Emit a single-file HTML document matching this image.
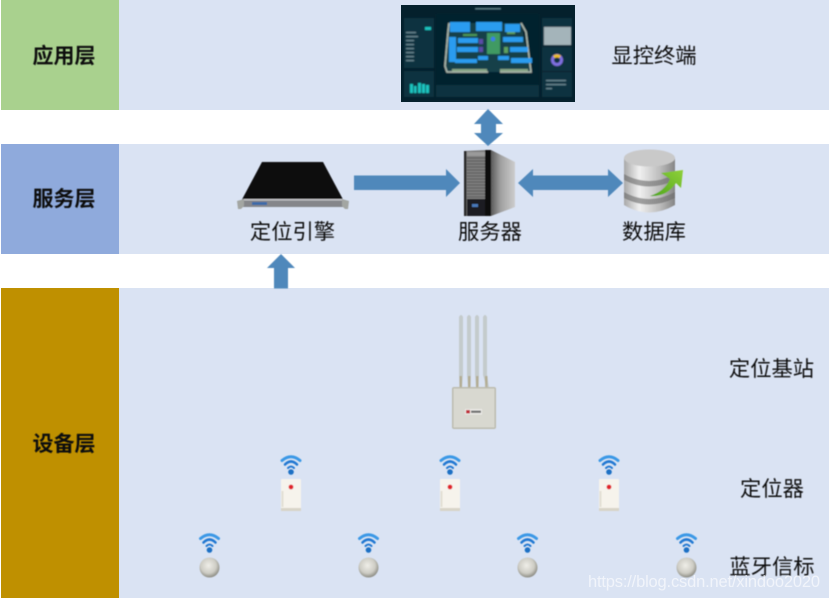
<!DOCTYPE html>
<html><head><meta charset="utf-8"><style>
html,body{margin:0;padding:0;background:#fff;width:830px;height:600px;overflow:hidden}
svg{display:block}
text{font-family:"Liberation Sans","Noto Sans CJK SC",sans-serif;fill:#111}
.b{font-weight:bold;font-size:21px}
.l{font-size:21.3px}
</style></head><body>
<svg width="830" height="600" viewBox="0 0 830 600" xmlns="http://www.w3.org/2000/svg">
<defs>
<linearGradient id="side" x1="0" x2="1" y1="0" y2="0"><stop offset="0" stop-color="#5a5a5a"/><stop offset=".4" stop-color="#a0a0a0"/><stop offset="1" stop-color="#cdcdcd"/></linearGradient>
<linearGradient id="cyl" x1="0" x2="1" y1="0" y2="0"><stop offset="0" stop-color="#a8a8a8"/><stop offset=".3" stop-color="#f0f0f0"/><stop offset=".7" stop-color="#bdbdbd"/><stop offset="1" stop-color="#858585"/></linearGradient>
<linearGradient id="grn" x1="0" x2="1" y1="1" y2="0"><stop offset="0" stop-color="#4fa51a"/><stop offset="1" stop-color="#8fd03a"/></linearGradient>
<radialGradient id="ball" cx=".45" cy=".4" r=".65"><stop offset="0" stop-color="#efeee8"/><stop offset=".6" stop-color="#cdccc4"/><stop offset="1" stop-color="#7d7d74"/></radialGradient>
<filter id="bl" x="-5%" y="-5%" width="110%" height="110%"><feGaussianBlur stdDeviation=".7"/></filter>
<filter id="bt" x="-5%" y="-5%" width="110%" height="110%"><feGaussianBlur stdDeviation=".4"/></filter>
<g id="wifi" fill="none" stroke-linecap="round">
<path d="M-9 -6.500 Q0 -14 9 -6.500" stroke="#3a98e6" stroke-width="3"/>
<path d="M-6 -2.500 Q0 -8.500 6 -2.500" stroke="#2178d2" stroke-width="2.600"/>
<path d="M-3 1 Q0 -2 3 1" stroke="#2178d2" stroke-width="2"/>
<circle cx="0" cy="5" r="2.800" fill="#1b6fc4"/>
</g>
<g id="locator">
<g transform="translate(0,-16)"><use href="#wifi"/></g>
<rect x="-10" y="-4" width="20" height="32" rx="1" fill="#f6f3ec"/>
<rect x="-10" y="25" width="20" height="3" fill="#d8d4c8"/>
<rect x="-9.500" y="8" width="2" height="16" fill="#e2dfd4"/>
<circle cx="0" cy="4" r="2.400" fill="#e0202a"/>
</g>
<g id="beacon">
<g transform="translate(0,-23)"><use href="#wifi"/></g>
<circle cx="0" cy="-.5" r="10" fill="url(#ball)"/>
</g>
</defs>

<rect x="119" y="0" width="710" height="110" fill="#dae3f3"/>
<rect x="119" y="144" width="710" height="110" fill="#dae3f3"/>
<rect x="119" y="288" width="710" height="310" fill="#dae3f3"/>
<rect x="1" y="0" width="118" height="110" fill="#a9d18e"/>
<rect x="1" y="144" width="118" height="110" fill="#8faadc"/>
<rect x="1" y="288" width="118" height="310" fill="#bf9000"/>

<!-- screen -->
<rect x="401" y="5" width="174" height="97" fill="#04202c"/>
<g filter="url(#bl)">
<rect x="436" y="14" width="103" height="70" fill="#06222f"/>
<rect x="404" y="18" width="30" height="50" fill="#0a3140"/>
<rect x="404" y="71" width="30" height="26" fill="#0a3140"/>
<rect x="542" y="18" width="30" height="28" fill="#0a3140"/>
<rect x="542" y="47" width="30" height="24" fill="#0a3140"/>
<rect x="542" y="72" width="30" height="25" fill="#0a3140"/>
<rect x="436" y="85" width="103" height="12" fill="#0a3140"/>
<path d="M449 23 L521 23 L531 72 L447 72 L445 66 Z" fill="#143f48"/>
<path d="M449 23 L448 32 L445 66 L447 72 L488 72 M500 72 L531 72 L526 32 L521 23" fill="none" stroke="#b4c0b4" stroke-width="1.500"/>
<g fill="#2c9cf0">
<rect x="450" y="22" width="20" height="10"/><rect x="476" y="22" width="26" height="9"/>
<rect x="505" y="24" width="15" height="8"/><rect x="449" y="37" width="7" height="25"/>
<rect x="458" y="38" width="20" height="5"/><rect x="457" y="47" width="21" height="5"/>
<rect x="503" y="37" width="20" height="5"/><rect x="510" y="47" width="18" height="5"/>
<rect x="455" y="59" width="22" height="4"/><rect x="478" y="56" width="10" height="4"/>
<rect x="498" y="56" width="11" height="4"/><rect x="511" y="58" width="21" height="5"/>
</g>
<rect x="487" y="33" width="13" height="21" fill="#3f9a63"/>
<circle cx="493" cy="39" r="2.200" fill="#3a7cf0"/>
<rect x="479" y="39" width="4" height="5" fill="#5b4ba8"/>
<rect x="479" y="47" width="4" height="5" fill="#5b4ba8"/>
<rect x="504" y="47" width="4" height="6" fill="#5fa05f"/>
<rect x="452" y="69" width="35" height="2.500" fill="#86a686"/>
<rect x="500" y="69" width="28" height="2.500" fill="#86a686"/>
<rect x="463" y="34" width="14" height="2" fill="#4d9a58"/>
<rect x="507" y="32" width="8" height="2" fill="#5fa05f"/>
<rect x="544" y="27" width="27" height="18" fill="#a4b4ba"/>
<circle cx="557" cy="60" r="4.500" fill="none" stroke="#7f6fe0" stroke-width="3"/>
<path d="M554 57 a4.500 4.500 0 0 1 6 0" fill="none" stroke="#f0c020" stroke-width="3"/>
<g fill="#1fc4c0">
<rect x="410" y="84" width="3" height="9"/><rect x="414" y="86" width="2.500" height="7"/>
<rect x="418" y="83" width="3" height="10"/><rect x="422" y="84" width="3" height="9"/>
<rect x="426" y="85" width="3" height="8"/>
<rect x="425" y="27" width="6" height="3"/>
</g>
<g fill="#9ab8bf" opacity=".7">
<rect x="406" y="32" width="10" height="1.200"/><rect x="406" y="36" width="12" height="1.200"/>
<rect x="406" y="40" width="8" height="1.200"/><rect x="406" y="44" width="8" height="1.200"/>
<rect x="406" y="48" width="8" height="1.200"/><rect x="406" y="52" width="8" height="1.200"/>
<rect x="406" y="56" width="8" height="1.200"/><rect x="406" y="60" width="8" height="1.200"/>
<rect x="546" y="80" width="20" height="1.200"/><rect x="546" y="84" width="20" height="1.200"/>
<rect x="546" y="88" width="6" height="1.200"/>
<rect x="475" y="8" width="26" height="1.500"/>
</g>
</g>

<!-- arrows -->
<g fill="#4f88bb" filter="url(#bt)">
<path d="M354 175.500 H446 V169 L460 183 L446 197 V190 H354 Z"/>
<path d="M281 254 L295 268 H288 V288.500 H274 V268 H267 Z"/>
<path d="M518 183 L533 169 V175.500 H608 V169 L623 183 L608 197 V190 H533 V197 Z"/>
<path d="M488 109 L503 124 H496 V133 H503 L488 146 L474 133 H481 V124 H474 Z"/>
</g>

<!-- engine -->
<g filter="url(#bt)">
<path d="M262 162 H323 L343 199.500 H242 Z" fill="#0a0a0d"/>
<rect x="243" y="199" width="100" height="8" fill="#85868a"/>
<rect x="243" y="199" width="100" height="1.500" fill="#c4c5c8"/>
<rect x="252" y="202" width="15" height="3" fill="#3d6aa8"/>
<path d="M237 201 L244 199 V206 L241 209 H238 Z" fill="#a3a6a2"/>
<path d="M349 201 L342 199 V206 L345 209 H348 Z" fill="#a3a6a2"/>
</g>

<!-- server -->
<g filter="url(#bt)">
<path d="M491 150 L515 162 V207 L491 216 Z" fill="url(#side)"/>
<path d="M464 151 L486 150 H491 V216 H464 Z" fill="#7c7c7c"/>
<rect x="485" y="150" width="6" height="66" fill="#101010"/>
<rect x="464" y="151" width="2.500" height="65" fill="#2a2a2a"/>
<rect x="467" y="152" width="18" height="4" fill="#9a9a9a"/>
<g stroke="#333" stroke-width=".8" opacity=".55">
<path d="M467 158H485M467 161H485M467 164H485M467 167H485M467 170H485M467 173H485M467 176H485M467 179H485M467 182H485M467 185H485M467 188H485M467 191H485M467 194H485M467 197H485"/>
</g>
<rect x="467" y="199" width="18" height="17" fill="#1b1b20"/>
<rect x="472" y="204" width="6" height="3" fill="#4a78b8"/>
</g>

<!-- database -->
<g filter="url(#bt)">
<path d="M624 158 V205 Q649 220 675 205 V158 Z" fill="url(#cyl)"/>
<path d="M624 174 Q649 188 675 174 V180 Q649 193 624 180 Z" fill="#6a6a6a" opacity=".6"/>
<path d="M624 192 Q649 206 675 192 V198 Q649 211 624 198 Z" fill="#6a6a6a" opacity=".6"/>
<ellipse cx="649.500" cy="158" rx="25.500" ry="8.500" fill="#c9c9c9"/>
<path d="M650 196 Q665 191 670 179 L661 173 L683 170 L681 188 L676 183 Q667 197 650 196 Z" fill="url(#grn)"/>
</g>

<!-- base station -->
<g filter="url(#bt)">
<g fill="#c4cbcc">
<path d="M459 317 Q461 313 463 317 V375 L462 387 H459.500 L459 375 Z"/>
<path d="M467 317 Q469 313 471 317 V375 L470.500 387 H468 L467 375 Z"/>
<path d="M475 317 Q477 313 479 317 V375 L478.500 387 H476 L475 375 Z"/>
<path d="M483 317 Q485 313 487 317 V375 L489 387 H486.500 L483 375 Z"/>
</g>
<g fill="#a89a70" opacity=".6">
<rect x="459.500" y="376" width="2.500" height="11"/><rect x="468" y="376" width="2.500" height="11"/>
<rect x="476" y="376" width="2.500" height="11"/><rect x="485" y="376" width="2.500" height="11"/>
</g>
<rect x="452" y="387" width="44" height="42" rx="2" fill="#bcbbae"/>
<rect x="453.500" y="388.500" width="41" height="39" fill="#d8d8d0"/>
<rect x="465" y="409" width="17" height="5.500" fill="#ecebe8"/>
<rect x="466" y="410" width="4" height="3.500" fill="#c0303a"/>
<rect x="471" y="410.500" width="10" height="2.500" fill="#777"/>
</g>

<!-- locators -->
<g filter="url(#bt)">
<use href="#locator" x="291" y="483"/>
<use href="#locator" x="450" y="483"/>
<use href="#locator" x="609" y="483"/>
<use href="#beacon" x="209.500" y="568"/>
<use href="#beacon" x="368.500" y="568"/>
<use href="#beacon" x="527.500" y="568"/>
<use href="#beacon" x="686.500" y="568"/>
</g>

<!-- labels -->
<g filter="url(#bt)">
<text class="b" x="64" y="63" text-anchor="middle">应用层</text>
<text class="b" x="64" y="206" text-anchor="middle">服务层</text>
<text class="b" x="64" y="451" text-anchor="middle">设备层</text>
<text class="l" x="654" y="63" text-anchor="middle">显控终端</text>
<text class="l" x="292.500" y="239" text-anchor="middle">定位引擎</text>
<text class="l" x="490" y="239" text-anchor="middle">服务器</text>
<text class="l" x="654" y="239" text-anchor="middle">数据库</text>
<text class="l" x="771.500" y="376" text-anchor="middle">定位基站</text>
<text class="l" x="772" y="496" text-anchor="middle">定位器</text>
<text class="l" x="772" y="574" text-anchor="middle">蓝牙信标</text>
</g>
<text x="588" y="587" font-size="16.500" style="fill:#fff;fill-opacity:.62;font-family:'Liberation Sans',sans-serif" textLength="232">https://blog.csdn.net/xindoo2020</text>
</svg>
</body></html>
